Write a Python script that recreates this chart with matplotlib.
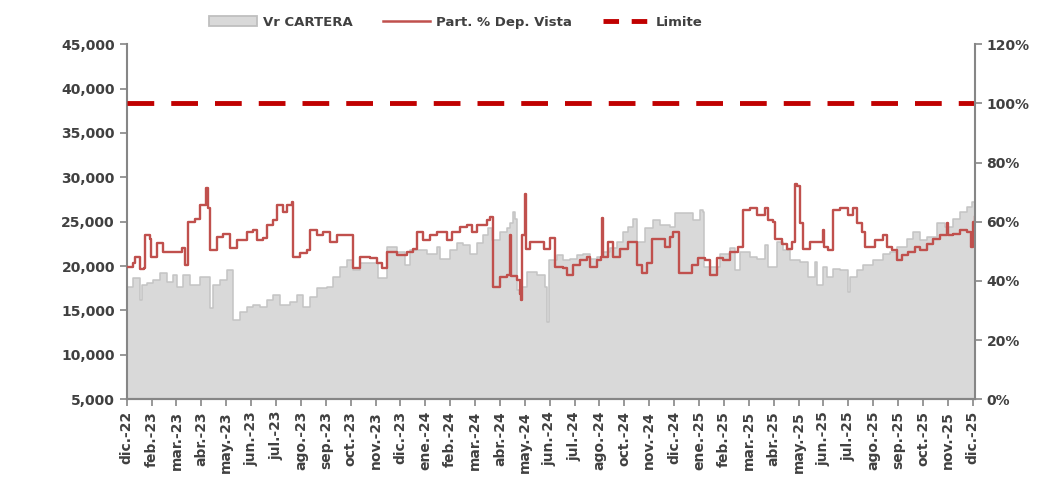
import numpy as np
import matplotlib
matplotlib.use("Agg")
import matplotlib.pyplot as plt
from matplotlib.patches import Patch
from matplotlib.lines import Line2D
from matplotlib.ticker import FuncFormatter

# Etiquetas del eje X (meses)
meses = ["dic.-22", "feb.-23", "mar.-23", "abr.-23", "may.-23", "jun.-23", "jul.-23",
         "ago.-23", "sep.-23", "oct.-23", "nov.-23", "dic.-23", "ene.-24", "feb.-24",
         "mar.-24", "abr.-24", "may.-24", "jun.-24", "jul.-24", "ago.-24", "oct.-24",
         "nov.-24", "dic.-24", "ene.-25", "feb.-25", "mar.-25", "abr.-25", "may.-25",
         "jun.-25", "jul.-25", "ago.-25", "sep.-25", "oct.-25", "nov.-25", "dic.-25"]

# Vr CARTERA (posicion en meses, valor)
pos_cartera = [0.00, 0.24, 0.44, 0.52, 0.60, 0.80, 1.05, 1.33, 1.61, 1.85, 2.01, 2.25, 2.53,
               2.93, 3.22, 3.34, 3.46, 3.74, 4.02, 4.22, 4.26, 4.54, 4.82, 5.06, 5.35, 5.63,
               5.87, 6.15, 6.55, 6.83, 7.07, 7.36, 7.64, 8.04, 8.28, 8.56, 8.84, 9.08, 9.36,
               9.89, 10.09, 10.17, 10.45, 10.85, 11.17, 11.37, 11.78, 12.06, 12.46, 12.58,
               12.98, 13.26, 13.50, 13.79, 14.07, 14.31, 14.51, 14.67, 14.99, 15.27, 15.39,
               15.51, 15.59, 15.68, 15.80, 16.08, 16.48, 16.80, 16.88, 16.96, 17.28, 17.52,
               17.81, 18.09, 18.33, 18.61, 18.89, 19.13, 19.41, 19.69, 19.94, 20.14, 20.34,
               20.50, 20.82, 21.14, 21.42, 21.83, 22.03, 22.51, 22.75, 23.03, 23.15, 23.19,
               23.43, 23.83, 24.24, 24.44, 24.64, 25.04, 25.32, 25.64, 25.76, 26.13, 26.37,
               26.65, 27.05, 27.37, 27.65, 27.73, 27.97, 28.13, 28.38, 28.66, 28.98, 29.06,
               29.34, 29.58, 29.98, 30.39, 30.67, 30.95, 31.35, 31.59, 31.87, 32.15, 32.56,
               32.88, 33.20, 33.48, 33.76, 33.96, 34.08]
cartera = [17650, 18600, 18600, 16150, 17850, 18050, 18400, 19200, 18200, 18950, 17650, 19000,
           17850, 18800, 18800, 15250, 17850, 18400, 19550, 19550, 13900, 14850, 15400, 15600,
           15400, 16150, 16700, 15600, 15950, 16700, 15400, 16550, 17500, 17650, 18800, 19900,
           20650, 19550, 20300, 20300, 18600, 18600, 22150, 21600, 20100, 21800, 21800, 21400,
           22150, 20850, 21800, 22550, 22350, 21400, 22550, 23500, 24250, 22900, 23850, 24250,
           24800, 26100, 25350, 17300, 17650, 19350, 18950, 17650, 13700, 20650, 21250, 20650,
           20850, 21250, 21400, 20850, 21050, 21600, 22000, 22750, 23850, 24400, 25350, 22750,
           24250, 25150, 24600, 24400, 25950, 25950, 25150, 26300, 26100, 19900, 19900, 21400,
           22000, 19550, 21600, 21050, 20850, 22350, 19900, 22750, 21800, 20650, 20450, 18800,
           20500, 17850, 19900, 18800, 19700, 19550, 17100, 18800, 19550, 20100, 20650, 21400,
           21600, 22150, 23100, 23850, 22900, 23300, 24800, 24400, 25350, 26100, 26650, 27250,
           25350]

# Part. % Dep. Vista (posicion en meses, porcentaje)
pos_part = [0.00, 0.24, 0.32, 0.52, 0.68, 0.72, 0.92, 0.96, 1.21, 1.45, 1.73, 2.21, 2.33,
            2.45, 2.73, 2.93, 3.18, 3.26, 3.34, 3.62, 3.86, 4.14, 4.42, 4.82, 5.06, 5.23,
            5.47, 5.63, 5.87, 6.03, 6.27, 6.43, 6.63, 6.67, 6.95, 7.23, 7.36, 7.64, 7.88,
            8.16, 8.44, 8.84, 9.08, 9.36, 9.77, 10.05, 10.25, 10.45, 10.85, 11.25, 11.50,
            11.66, 11.90, 12.18, 12.46, 12.86, 13.06, 13.38, 13.67, 13.87, 14.07, 14.47,
            14.59, 14.71, 14.99, 15.27, 15.39, 15.45, 15.68, 15.80, 15.84, 15.88, 16.00,
            16.04, 16.20, 16.72, 16.76, 17.00, 17.20, 17.52, 17.68, 17.93, 18.21, 18.49,
            18.61, 18.89, 19.05, 19.09, 19.13, 19.33, 19.53, 19.81, 20.14, 20.34, 20.50,
            20.70, 20.90, 21.10, 21.42, 21.62, 21.83, 21.95, 22.15, 22.19, 22.51, 22.71,
            22.95, 23.23, 23.43, 23.71, 23.95, 24.24, 24.56, 24.72, 24.76, 25.04, 25.32,
            25.64, 25.76, 25.96, 26.05, 26.33, 26.53, 26.73, 26.85, 26.93, 27.05, 27.17,
            27.45, 27.85, 27.97, 28.01, 28.17, 28.38, 28.66, 28.98, 29.18, 29.34, 29.54,
            29.66, 30.06, 30.39, 30.55, 30.75, 30.95, 31.15, 31.39, 31.67, 31.87, 32.15,
            32.40, 32.68, 32.96, 33.00, 33.20, 33.48, 33.76, 33.92, 34.00, 34.08]
part = [44.7, 46.0, 48.0, 44.0, 44.5, 55.4, 54.0, 48.0, 52.7, 49.8, 49.8, 51.0, 45.3,
        60.0, 61.0, 65.6, 71.3, 64.6, 50.4, 54.9, 56.0, 51.0, 53.8, 56.6, 57.1, 53.8,
        54.4, 58.8, 60.5, 65.6, 63.3, 65.6, 66.7, 48.1, 49.4, 50.4, 57.1, 55.4, 56.6,
        53.2, 55.4, 55.4, 44.3, 48.1, 47.6, 45.9, 44.3, 49.8, 48.7, 49.8, 50.9,
        56.6, 53.8, 55.4, 56.6, 53.8, 56.6, 58.2, 58.8, 56.6, 58.8, 60.5,
        61.6, 38.0, 41.3, 41.9, 55.4, 41.5, 40.2, 35.7, 33.5, 55.4, 69.5,
        50.9, 53.2, 53.2, 50.9, 54.4, 44.7, 44.3, 41.9, 45.3, 47.0, 48.1,
        44.7, 47.0, 48.0, 61.1, 48.1, 53.2, 48.1, 50.9, 53.2, 53.0, 45.3,
        42.5, 45.9, 54.3, 54.0, 51.5, 54.9, 56.6, 56.6, 42.5, 42.5, 45.3,
        47.6, 47.0, 41.9, 47.6, 47.0, 49.8, 51.5, 51.5, 63.9, 64.5, 62.2,
        64.5, 60.5, 60.0, 54.3, 52.6, 50.9, 53.2, 72.9, 72.0, 59.4, 50.9,
        53.2, 53.2, 57.1, 51.5, 50.4, 63.9, 64.5, 62.2, 64.5, 59.4, 56.6,
        51.5, 53.8, 55.4, 51.5, 50.4, 47.0, 48.7, 49.8, 51.5, 50.4, 52.6,
        54.3, 55.4, 59.4, 55.5, 56.0, 57.1, 56.6, 51.5, 60.0, 61.6]

limite = 100

texto = "#404040"
eje = "#868686"
plt.rcParams["font.family"] = ["DejaVu Sans"]

fig = plt.figure(figsize=(10.56, 4.91), dpi=100)
ax = fig.add_axes([0.120, 0.187, 0.803, 0.723])
ax2 = ax.twinx()

# area de la cartera
ax.fill_between(pos_cartera, 5000, cartera, step="post", color="#d9d9d9", lw=0)
ax.step(pos_cartera, cartera, where="post", color="#c4c4c4", lw=1.1)

# participacion y limite
ax2.step(pos_part, part, where="post", color="#c0504d", lw=1.7)
ax2.axhline(limite, color="#c00000", lw=3.5, ls=(0, (5.5, 3.5)))

ax.set_xlim(0, 34.08)
ax.set_ylim(5000, 45000)
ax2.set_ylim(0, 120)
ax.set_yticks(np.arange(5000, 45001, 5000))
ax2.set_yticks(np.arange(0, 121, 20))
ax.yaxis.set_major_formatter(FuncFormatter(lambda v, p: f"{v:,.0f}"))
ax2.yaxis.set_major_formatter(FuncFormatter(lambda v, p: f"{v:.0f}%"))
ax.set_xticks(np.arange(len(meses)))
ax.set_xticklabels(meses, rotation=90)

for a in (ax, ax2):
    for s in a.spines.values():
        s.set_color(eje)
        s.set_linewidth(1.5)
    a.spines["top"].set_visible(False)
    a.tick_params(colors=eje, labelcolor=texto, labelsize=10, width=1.2, length=5)
    for lbl in a.get_xticklabels() + a.get_yticklabels():
        lbl.set_fontweight("bold")
ax2.spines["left"].set_visible(False)
ax.spines["right"].set_visible(False)

handles = [Patch(facecolor="#d9d9d9", edgecolor="#bfbfbf", lw=1.3),
           Line2D([], [], color="#c0504d", lw=1.8),
           Line2D([], [], color="#c00000", lw=3.5, ls=(0, (3.2, 2.6)))]
leg = fig.legend(handles, ["Vr CARTERA", "Part. % Dep. Vista", "Limite"], loc="center left",
                 bbox_to_anchor=(0.192, 0.955), ncol=3, frameon=False, handlelength=3.6,
                 handletextpad=0.45, columnspacing=2.3, borderpad=0,
                 prop={"size": 9.5, "weight": "bold"})
for t in leg.get_texts():
    t.set_color(texto)

fig.savefig("out.png", dpi=100)
